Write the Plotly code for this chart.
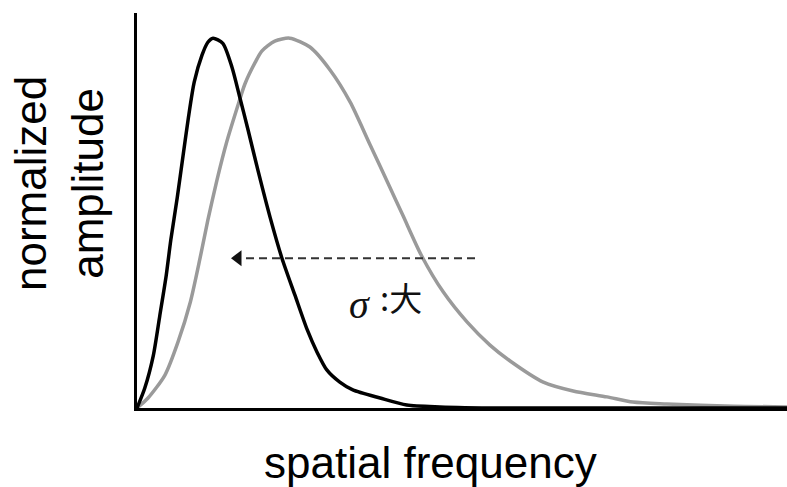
import plotly.graph_objects as go

# Spatial frequency (arbitrary units) and normalized amplitude samples
freq_small = [0.0, 0.12, 0.25, 0.35, 0.45, 0.52, 0.62, 0.71, 0.79, 0.88, 1.0, 1.09,
              1.17, 1.32, 1.46, 1.58, 1.71, 1.86, 2.05, 2.23, 2.43, 2.62, 2.77,
              2.92, 3.12, 3.32, 3.74, 4.15, 4.66, 5.6, 10.0]
amp_small = [0.0, 0.054, 0.141, 0.249, 0.359, 0.454, 0.57, 0.684, 0.784, 0.881,
             0.954, 0.989, 1.0, 0.986, 0.922, 0.841, 0.751, 0.643, 0.514, 0.405,
             0.305, 0.211, 0.151, 0.103, 0.07, 0.049, 0.027, 0.008, 0.003, 0.0, 0.0]

freq_large = [0.0, 0.17, 0.43, 0.63, 0.82, 0.97, 1.09, 1.23, 1.38, 1.54, 1.66, 1.82,
              1.92, 2.12, 2.35, 2.66, 2.97, 3.28, 3.58, 3.89, 4.09, 4.38, 4.71, 5.08,
              5.43, 5.74, 6.25, 6.71, 7.23, 7.63, 8.15, 9.17, 10.0]
amp_large = [0.0, 0.027, 0.089, 0.178, 0.286, 0.405, 0.508, 0.616, 0.719, 0.811,
             0.876, 0.935, 0.965, 0.992, 1.0, 0.976, 0.914, 0.827, 0.714, 0.597,
             0.521, 0.411, 0.314, 0.232, 0.17, 0.127, 0.07, 0.046, 0.03, 0.016,
             0.011, 0.005, 0.003]

# Shift arrow: tail and tip on the frequency axis, at a common amplitude
arrow_tail = 5.2
arrow_tip = 1.43
arrow_amp = 0.405
head_len = 0.2  # arrowhead length in frequency units

# "σ :大" label, split into the italic symbol and the CJK part
sigma_text = "σ"
sigma_pos = (3.42, 0.28)
size_text = ":大"
size_pos = (4.06, 0.3)

fig = go.Figure()

fig.add_trace(go.Scatter(
    x=freq_large, y=amp_large, mode="lines",
    line=dict(color="#9a9a9a", width=3.5, shape="spline", smoothing=0.7),
    hoverinfo="skip"))

fig.add_trace(go.Scatter(
    x=freq_small, y=amp_small, mode="lines",
    line=dict(color="#000000", width=3.5, shape="spline", smoothing=0.7),
    hoverinfo="skip"))

# dashed shaft
fig.add_trace(go.Scatter(
    x=[arrow_tail, arrow_tip + head_len], y=[arrow_amp, arrow_amp], mode="lines",
    line=dict(color="#333333", width=2, dash="8px,5px"),
    hoverinfo="skip"))

# arrowhead
fig.add_trace(go.Scatter(
    x=[arrow_tip + head_len * 0.62], y=[arrow_amp], mode="markers",
    marker=dict(symbol="triangle-left", size=14, color="#111111",
                line=dict(width=0)),
    hoverinfo="skip"))

fig.add_annotation(
    x=sigma_pos[0], y=sigma_pos[1], xref="x", yref="y",
    text="<i>" + sigma_text + "</i>", showarrow=False,
    font=dict(family="Liberation Serif, Times New Roman, serif",
              size=40, color="#111111"))

fig.add_annotation(
    x=size_pos[0], y=size_pos[1], xref="x", yref="y", text=size_text,
    showarrow=False,
    font=dict(family="Noto Sans CJK JP, Liberation Sans, sans-serif",
              size=33, color="#111111"))

fig.add_annotation(
    x=0.452, y=-0.139, xref="paper", yref="paper", text="spatial frequency",
    showarrow=False, xanchor="center", yanchor="middle",
    font=dict(family="Liberation Sans, Arial, sans-serif", size=44, color="#000000"))

fig.add_annotation(
    x=-0.12, y=0.567, xref="paper", yref="paper",
    text="normalized<br>amplitude", textangle=-90,
    showarrow=False, xanchor="center", yanchor="middle",
    font=dict(family="Liberation Sans, Arial, sans-serif", size=44, color="#000000"))

fig.update_layout(
    width=787, height=487,
    margin=dict(l=137, r=0, t=13, b=79),
    paper_bgcolor="white", plot_bgcolor="white",
    showlegend=False,
    xaxis=dict(range=[0, 10], showline=True, linecolor="black", linewidth=3,
               showgrid=False, zeroline=False, showticklabels=False, ticks=""),
    yaxis=dict(range=[0, 1.068], showline=True, linecolor="black", linewidth=3,
               showgrid=False, zeroline=False, showticklabels=False, ticks=""),
)

fig.write_html("out.html")
